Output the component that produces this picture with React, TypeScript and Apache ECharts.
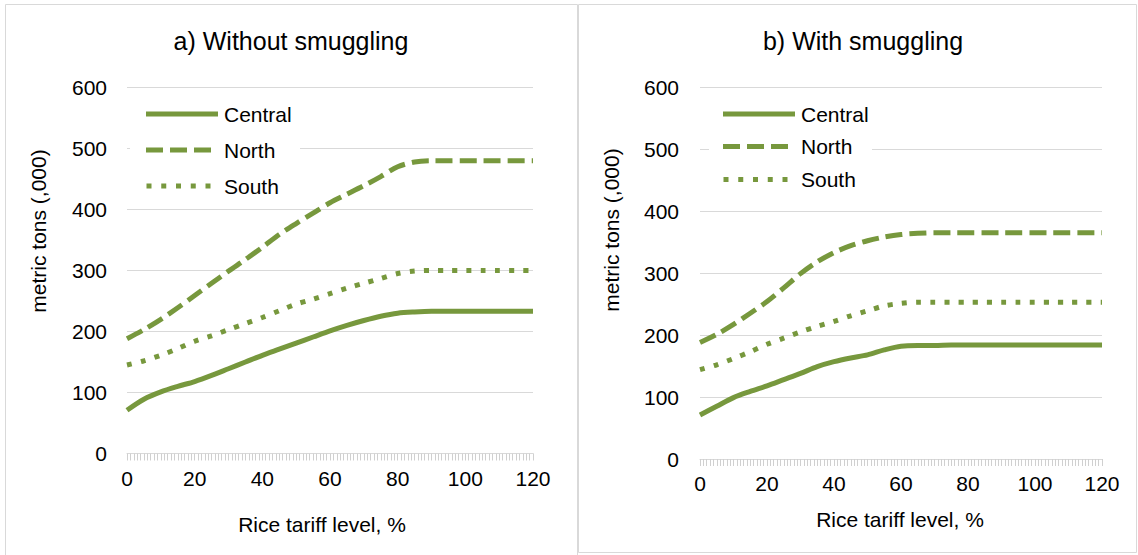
import React, { useEffect, useRef } from "react";
import * as echarts from "echarts";

const tariff = [0, 5, 10, 15, 20, 25, 30, 35, 40, 45, 50, 55, 60, 65, 70, 75, 80, 85, 90, 95, 100, 105, 110, 115, 120];

const leftCentral = [71, 89, 101, 110, 118, 128, 139, 150, 161, 171, 181, 191, 201, 210, 218, 225, 230, 232, 233, 233, 233, 233, 233, 233, 233];
const leftNorth = [188, 203, 220, 239, 259, 279, 299, 318, 338, 359, 377, 394, 411, 425, 439, 454, 470, 478, 480, 480, 480, 480, 480, 480, 480];
const leftSouth = [145, 152, 161, 172, 184, 193, 203, 213, 223, 234, 245, 253, 262, 271, 279, 287, 295, 299, 300, 300, 300, 300, 300, 300, 300];

const rightCentral = [71, 85, 99, 109, 118, 128, 138, 149, 157, 163, 168, 176, 182, 183, 183, 184, 184, 184, 184, 184, 184, 184, 184, 184, 184];
const rightNorth = [188, 201, 217, 235, 254, 276, 299, 318, 333, 344, 352, 358, 362, 364, 365, 365, 365, 365, 365, 365, 365, 365, 365, 365, 365];
const rightSouth = [144, 152, 162, 173, 185, 195, 205, 214, 222, 231, 239, 247, 251, 253, 253, 253, 253, 253, 253, 253, 253, 253, 253, 253, 253];

const seriesNames = ["Central", "North", "South"];
const panelTitles = ["a) Without smuggling", "b) With smuggling"];
const xAxisTitle = "Rice tariff level, %";
const yAxisTitle = "metric tons (,000)";

const FONT = "'Liberation Sans', Arial, sans-serif";
const GREEN = "#77983d";
const GRID_GRAY = "#d9d9d9";
const LW = 5;

const dashes: any[] = ["solid", [17, 7], [5, 9.2]];

function pairs(vals: number[]) {
  return tariff.map((t, i) => [t, vals[i]]);
}

function legendGraphic(x0: number, textX: number, rows: number[], box: number[]) {
  const children: any[] = [
    {
      type: "rect",
      z: 20,
      shape: { x: box[0], y: box[1], width: box[2], height: box[3] },
      style: { fill: "#fff", stroke: "none" },
    },
  ];
  seriesNames.forEach((name, i) => {
    const isDot = i === 2;
    children.push({
      type: "line",
      z: 21,
      shape: { x1: x0 + (isDot ? 0.5 : 0), y1: rows[i], x2: x0 + (i === 0 ? 72 : 66), y2: rows[i] },
      style: {
        stroke: GREEN,
        lineWidth: LW,
        lineCap: "butt",
        lineDash: i === 0 ? null : i === 1 ? [17, 7] : [5, 9.75],
      },
    });
    children.push({
      type: "text",
      z: 21,
      x: textX,
      y: rows[i],
      style: {
        text: name,
        fontFamily: FONT,
        fontSize: 21,
        fill: "#000",
        textAlign: "left",
        textVerticalAlign: "middle",
      },
    });
  });
  return { type: "group", z: 20, children };
}

export default function App() {
  const ref = useRef<HTMLDivElement>(null);
  useEffect(() => {
    if (!ref.current) return;
    const chart = echarts.init(ref.current, null, { renderer: "svg" });

    const mkX = (gi: number) => ({
      type: "value",
      gridIndex: gi,
      min: 0,
      max: 120,
      interval: 20,
      axisLine: { show: true, lineStyle: { color: GRID_GRAY, width: 1 } },
      axisTick: { show: true, length: 7, lineStyle: { color: "#d0d0d0", width: 1 } },
      minorTick: { show: true, splitNumber: 20, length: 7, lineStyle: { color: "#d0d0d0", width: 1 } },
      splitLine: { show: false },
      axisLabel: { fontFamily: FONT, fontSize: 21, color: "#000", margin: 14 },
    });
    const mkY = (gi: number, margin: number) => ({
      type: "value",
      gridIndex: gi,
      min: 0,
      max: 600,
      interval: 100,
      axisLine: { show: false },
      axisTick: { show: false },
      splitLine: { show: true, lineStyle: { color: GRID_GRAY, width: 1 } },
      axisLabel: { fontFamily: FONT, fontSize: 21, color: "#000", margin },
    });

    const panels = [
      [leftCentral, leftNorth, leftSouth],
      [rightCentral, rightNorth, rightSouth],
    ];
    const series: any[] = [];
    panels.forEach((p, gi) => {
      p.forEach((vals, si) => {
        series.push({
          type: "line",
          name: seriesNames[si],
          xAxisIndex: gi,
          yAxisIndex: gi,
          data: pairs(vals),
          symbol: "none",
          smooth: 0.3,
          lineStyle: { color: GREEN, width: LW, type: dashes[si], cap: "butt", join: "round" },
          itemStyle: { color: GREEN },
          z: 3,
        });
      });
    });

    const titleStyle = { fontFamily: FONT, fontSize: 25, fontWeight: "normal", color: "#000" };

    chart.setOption({
      animation: false,
      backgroundColor: "#fff",
      title: [
        { text: panelTitles[0], left: 291, top: 41, padding: 0, textAlign: "center", textVerticalAlign: "middle", textStyle: titleStyle },
        { text: panelTitles[1], left: 863, top: 41, padding: 0, textAlign: "center", textVerticalAlign: "middle", textStyle: titleStyle },
      ],
      grid: [
        { left: 127, right: 605, top: 87.5, bottom: 101.5 },
        { left: 700, right: 36, top: 87, bottom: 96 },
      ],
      xAxis: [mkX(0), mkX(1)],
      yAxis: [mkY(0, 20), mkY(1, 21)],
      graphic: [
        {
          type: "rect",
          shape: { x: 5.5, y: 4.5, width: 572, height: 560 },
          style: { fill: "none", stroke: GRID_GRAY, lineWidth: 1 },
          silent: true,
          z: -1,
        },
        {
          type: "rect",
          shape: { x: 578.5, y: 4.5, width: 558, height: 548 },
          style: { fill: "none", stroke: GRID_GRAY, lineWidth: 1 },
          silent: true,
          z: -1,
        },
        legendGraphic(146, 224, [114, 150, 186], [130, 99, 170, 102]),
        legendGraphic(723, 801, [114, 146.6, 179.5], [709, 99, 163, 96]),
        {
          type: "text",
          x: 38,
          y: 231,
          rotation: Math.PI / 2,
          style: { text: yAxisTitle, fontFamily: FONT, fontSize: 21, fill: "#000", textAlign: "center", textVerticalAlign: "middle" },
        },
        {
          type: "text",
          x: 611,
          y: 230,
          rotation: Math.PI / 2,
          style: { text: yAxisTitle, fontFamily: FONT, fontSize: 21, fill: "#000", textAlign: "center", textVerticalAlign: "middle" },
        },
        {
          type: "text",
          x: 322,
          y: 524,
          style: { text: xAxisTitle, fontFamily: FONT, fontSize: 21, fill: "#000", textAlign: "center", textVerticalAlign: "middle" },
        },
        {
          type: "text",
          x: 900,
          y: 519,
          style: { text: xAxisTitle, fontFamily: FONT, fontSize: 21, fill: "#000", textAlign: "center", textVerticalAlign: "middle" },
        },
      ],
      series,
    });

    return () => chart.dispose();
  }, []);

  return (
    <div
      ref={ref}
      style={{ position: "fixed", left: 0, top: 0, width: 1138, height: 555, background: "#fff" }}
    />
  );
}
